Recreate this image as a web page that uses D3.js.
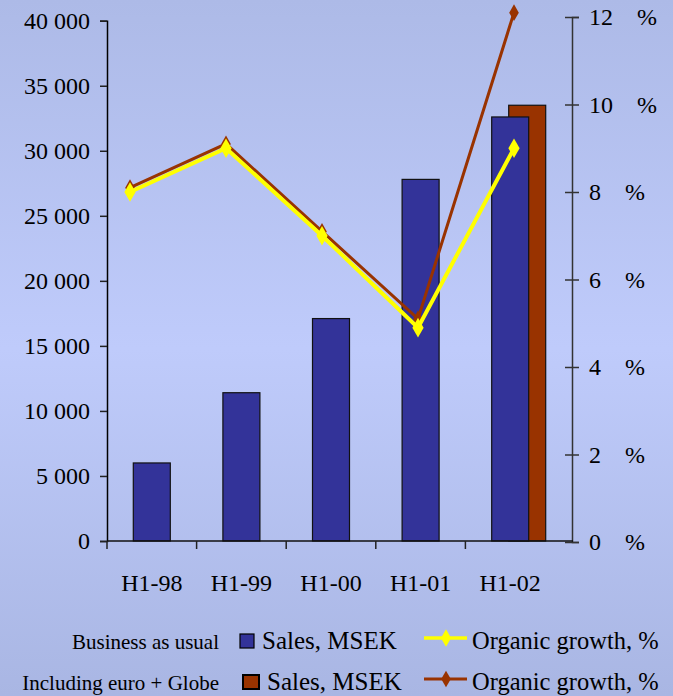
<!DOCTYPE html>
<html>
<head>
<meta charset="utf-8">
<script src="https://cdn.jsdelivr.net/npm/d3@7"></script>
<style>
  html, body { margin: 0; padding: 0; }
  body { width: 673px; height: 696px; overflow: hidden; }
  svg { display: block; font-family: "Liberation Serif", "Times New Roman", serif; }
</style>
</head>
<body>
<svg id="chart" width="673" height="696"></svg>
<script>
// Half-year periods
const categories = ["H1-98", "H1-99", "H1-00", "H1-01", "H1-02"];

// Sales, MSEK — business as usual
const salesUsual = [6000, 11400, 17100, 27800, 32600];
// Sales, MSEK — including euro + Globe (only the last period differs)
const salesIncl = [null, null, null, null, 33500];

// Organic growth, %
const growthUsual = [8.0, 9.0, 7.0, 4.9, 9.0];
const growthIncl = [8.1, 9.1, 7.1, 5.1, 12.1];

// Axis ticks
const salesTicks = [0, 5000, 10000, 15000, 20000, 25000, 30000, 35000, 40000];
const growthTicks = [0, 2, 4, 6, 8, 10, 12];

const BLUE = "#333399";
const BROWN = "#993300";
const YELLOW = "#ffff00";

const svg = d3.select("#chart");

// Background gradient
const defs = svg.append("defs");
const grad = defs.append("linearGradient")
  .attr("id", "bg").attr("x1", 0).attr("y1", 0).attr("x2", 0).attr("y2", 1);
grad.append("stop").attr("offset", "0%").attr("stop-color", "#adbae7");
grad.append("stop").attr("offset", "50%").attr("stop-color", "#bfcbfb");
grad.append("stop").attr("offset", "100%").attr("stop-color", "#a9b6e3");
svg.append("rect").attr("width", 673).attr("height", 696).attr("fill", "url(#bg)");

// Scales
const x = d3.scaleBand().domain(categories).range([107, 555]).padding(0);
const xLine = d3.scalePoint().domain(categories).range([130, 514]);
const ySales = d3.scaleLinear().domain([0, 40000]).range([541, 20.7]);
const yGrowth = d3.scaleLinear().domain([0, 12]).range([542, 17]);

const barW = 37;
const fmt = d3.formatLocale({ decimal: ".", thousands: " ", grouping: [3], currency: ["", ""] }).format(",d");

// Bars: the "including" bar sits behind and to the right of the base bar
const barsIncl = categories.map((c, i) => ({ c, v: salesIncl[i] })).filter(d => d.v != null);
svg.append("g").selectAll("rect").data(barsIncl).join("rect")
  .attr("x", d => x(d.c) + x.bandwidth() / 2 - barW / 2 + 17)
  .attr("y", d => ySales(d.v))
  .attr("width", barW)
  .attr("height", d => ySales(0) - ySales(d.v))
  .attr("fill", BROWN).attr("stroke", "#111").attr("stroke-width", 1.2);

svg.append("g").selectAll("rect").data(categories.map((c, i) => ({ c, v: salesUsual[i] }))).join("rect")
  .attr("x", d => x(d.c) + x.bandwidth() / 2 - barW / 2)
  .attr("y", d => ySales(d.v))
  .attr("width", barW)
  .attr("height", d => ySales(0) - ySales(d.v))
  .attr("fill", BLUE).attr("stroke", "#111").attr("stroke-width", 1.2);

// Left axis
const leftAxis = d3.axisLeft(ySales).tickValues(salesTicks).tickSize(7).tickPadding(10).tickFormat(fmt);
const gL = svg.append("g").attr("transform", "translate(107,0)").call(leftAxis);
gL.select(".domain").attr("stroke", "#000").attr("stroke-width", 1.5);
gL.selectAll(".tick line").attr("stroke", "#222").attr("stroke-width", 1.5);
gL.selectAll(".tick text").attr("font-size", 24).attr("fill", "#000")
  .attr("font-family", "'Liberation Serif', 'Times New Roman', serif");

// Right axis: ticks cross the axis line
const rightAxis = d3.axisRight(yGrowth).tickValues(growthTicks).tickSize(7).tickPadding(10)
  .tickFormat(d => d + "\u00a0\u00a0\u00a0\u00a0%");
const gR = svg.append("g").attr("transform", "translate(572,0)").call(rightAxis);
gR.select(".domain").attr("stroke", "#333").attr("stroke-width", 1.5);
gR.selectAll(".tick line").attr("x1", -7).attr("stroke", "#333").attr("stroke-width", 1.5);
gR.selectAll(".tick text").attr("font-size", 24).attr("fill", "#000")
  .attr("font-family", "'Liberation Serif', 'Times New Roman', serif");

// Category axis
const bottomAxis = d3.axisBottom(x).tickSize(0).tickPadding(0).tickFormat("");
const gB = svg.append("g").attr("transform", "translate(0,541)");
gB.append("line").attr("x1", 107).attr("x2", 573).attr("stroke", "#111").attr("stroke-width", 1.5);
gB.selectAll("line.sep").data(categories).join("line").attr("class", "sep")
  .attr("x1", d => x(d)).attr("x2", d => x(d)).attr("y1", 0).attr("y2", 8)
  .attr("stroke", "#222").attr("stroke-width", 1.5);
gB.selectAll("text").data(categories).join("text")
  .attr("x", d => x(d) + x.bandwidth() / 2).attr("y", 50)
  .attr("text-anchor", "middle").attr("font-size", 24).attr("fill", "#000")
  .text(d => d);

// Growth lines
const diamond = d3.symbol().type(d3.symbolDiamond);
function drawLine(values, color, width, size) {
  const pts = categories.map((c, i) => [xLine(c), yGrowth(values[i])]);
  svg.append("path").attr("d", d3.line()(pts))
    .attr("fill", "none").attr("stroke", color).attr("stroke-width", width)
    .attr("stroke-linejoin", "miter");
  svg.append("g").selectAll("path").data(pts).join("path")
    .attr("transform", d => `translate(${d[0]},${d[1]}) rotate(0)`)
    .attr("d", diamond.size(size)).attr("fill", color);
}
drawLine(growthIncl, BROWN, 3, 80);
drawLine(growthUsual, YELLOW, 4, 110);

// Legend
const legend = svg.append("g");
const rows = [
  { label: "Business as usual", y: 649, sq: BLUE, sqX: 240, sqW: 14, sqStroke: 1.2, salesX: 262, line: YELLOW, lw: 3.5, ds: 90 },
  { label: "Including euro + Globe", y: 690, sq: BROWN, sqX: 243, sqW: 16, sqStroke: 2, salesX: 267, line: BROWN, lw: 3, ds: 80 }
];
rows.forEach(r => {
  legend.append("text").attr("x", 219).attr("y", r.y).attr("text-anchor", "end")
    .attr("font-size", 21).attr("fill", "#000").text(r.label);
  legend.append("rect").attr("x", r.sqX).attr("y", r.y - 15).attr("width", r.sqW).attr("height", 14)
    .attr("fill", r.sq).attr("stroke", "#000").attr("stroke-width", r.sqStroke);
  legend.append("text").attr("x", r.salesX).attr("y", r.y).attr("font-size", 25)
    .attr("fill", "#000").text("Sales, MSEK");
  legend.append("line").attr("x1", 424).attr("x2", 467).attr("y1", r.y - 11).attr("y2", r.y - 11)
    .attr("stroke", r.line).attr("stroke-width", r.lw);
  legend.append("path").attr("transform", `translate(446,${r.y - 11})`)
    .attr("d", diamond.size(r.ds)).attr("fill", r.line);
  legend.append("text").attr("x", 472).attr("y", r.y).attr("font-size", 24.5)
    .attr("fill", "#000").text("Organic growth, %");
});
</script>
</body>
</html>
